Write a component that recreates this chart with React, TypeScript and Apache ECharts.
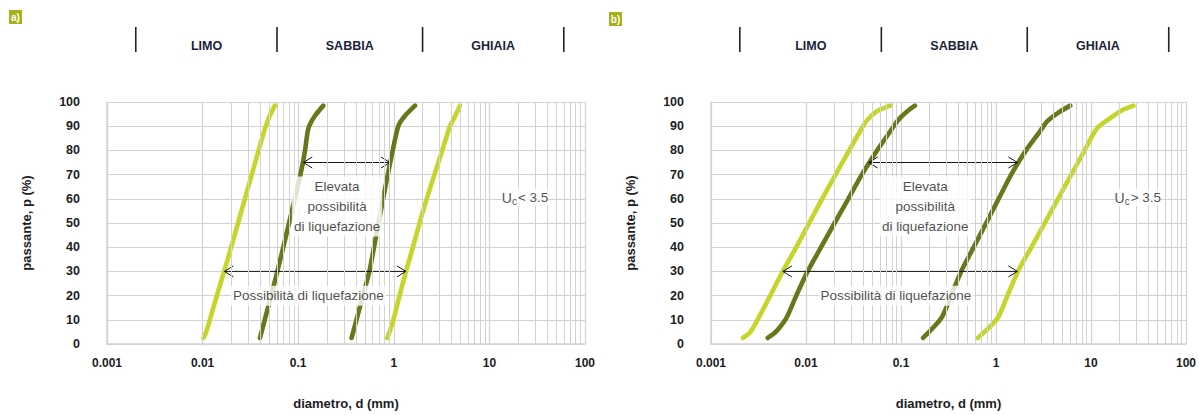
import React, { useEffect, useRef } from "react";
import * as echarts from "echarts";

// ---------- data ----------
const X_MIN = 0.001;
const X_MAX = 100;
const DECADES = [0.001, 0.01, 0.1, 1, 10];
const MINOR_MANTISSAS = [2, 3, 4, 5, 6, 7, 8, 9];

const HEADER_BOUNDS = [0.002, 0.06, 2, 60];
const HEADER_NAMES = ["LIMO", "SABBIA", "GHIAIA"];
const HEADER_POS = [0.011, 0.346, 10.95];

// panel a) Uc < 3.5
const A_LIGHT_LEFT = [
  [0.0102, 2.5], [0.0109, 5], [0.0119, 10], [0.0141, 20], [0.0168, 30], [0.0199, 40],
  [0.0235, 50], [0.0277, 60], [0.0327, 70], [0.0385, 80], [0.045, 89], [0.050, 94], [0.057, 98.5],
];
const A_DARK_LEFT = [
  [0.0398, 2.5], [0.0447, 10], [0.0521, 20], [0.0605, 30], [0.0698, 40],
  [0.0802, 50], [0.092, 60], [0.1057, 70], [0.118, 80], [0.1276, 89], [0.148, 94], [0.183, 98.5],
];
const A_DARK_RIGHT = [
  [0.362, 2.5], [0.407, 10], [0.476, 20], [0.555, 30], [0.621, 40],
  [0.693, 50], [0.774, 60], [0.865, 70], [0.975, 80], [1.114, 90], [1.29, 94], [1.667, 98.5],
];
const A_LIGHT_RIGHT = [
  [0.855, 2.5], [0.99, 10], [1.15, 20], [1.34, 30], [1.585, 40],
  [1.86, 50], [2.21, 60], [2.66, 70], [3.21, 80], [3.87, 90], [4.36, 94], [4.93, 98.5],
];
const A_ARROWS = [
  [0.113, 0.912, 75],
  [0.0169, 1.34, 30],
];
const A_TEXTS = [
  { pos: [0.255, 56.8], text: "Elevata\npossibilità\ndi liquefazione" },
  { pos: [0.1276, 19.9], text: "Possibilità di liquefazione" },
];
const A_UC = { pos: [13.5, 60.5], sign: "<", value: "3.5" };

// panel b) Uc > 3.5
const B_LIGHT_LEFT = [
  [0.00217, 2.5], [0.0026, 5], [0.0030, 9], [0.0042, 20], [0.0057, 30], [0.0079, 40],
  [0.0108, 50], [0.0148, 60], [0.0205, 70], [0.0285, 80], [0.036, 87], [0.043, 92], [0.055, 96], [0.077, 98.5],
];
const B_DARK_LEFT = [
  [0.00396, 2.5], [0.0048, 5], [0.0062, 10.7], [0.0079, 20], [0.0104, 30], [0.0144, 40],
  [0.020, 50], [0.0279, 60], [0.0387, 70], [0.056, 80], [0.0776, 88], [0.094, 92.7], [0.115, 96], [0.14, 98.5],
];
const B_DARK_RIGHT = [
  [0.171, 2.5], [0.266, 10.7], [0.336, 20], [0.43, 30], [0.582, 40], [0.788, 50],
  [1.067, 60], [1.445, 70], [2.07, 80], [2.92, 88], [3.46, 92], [4.7, 96], [6.05, 98.5],
];
const B_LIGHT_RIGHT = [
  [0.643, 2.5], [1.04, 10.7], [1.32, 20], [1.7, 30], [2.36, 40], [3.26, 50],
  [4.5, 60], [6.2, 70], [8.57, 80], [11.5, 89], [15.5, 93], [21, 96.5], [28, 98.5],
];
const B_ARROWS = [
  [0.0457, 1.68, 75],
  [0.0057, 1.68, 30],
];
const B_TEXTS = [
  { pos: [0.18, 56.8], text: "Elevata\npossibilità\ndi liquefazione" },
  { pos: [0.0885, 19.9], text: "Possibilità di liquefazione" },
];
const B_UC = { pos: [17.7, 60.5], sign: ">", value: "3.5" };

// ---------- styles ----------
const LIGHT = "#c4d62a";
const DARK = "#677719";
const GRID_C = "#d2d2d2";
const TEXT_C = "#1c1c24";
const SANS = "'Liberation Sans', Arial, sans-serif";
const NARROW = "'Liberation Sans Narrow', 'Liberation Sans', Arial, sans-serif";

const MINOR_VALUES: number[] = [];
DECADES.forEach((d) => MINOR_MANTISSAS.forEach((m) => MINOR_VALUES.push(d * m)));

function fmtTick(v: number) {
  return String(Number(v.toPrecision(3)));
}

function buildPanel(idx: number, curves: number[][][], arrows: number[][], texts: any[], uc: any) {
  const main = idx * 2;
  const head = idx * 2 + 1;
  const series: any[] = [];
  series.push({
    type: "line",
    xAxisIndex: main,
    yAxisIndex: main,
    data: [],
    silent: true,
    z: 1,
    markLine: {
      silent: true,
      symbol: ["none", "none"],
      label: { show: false },
      lineStyle: { color: GRID_C, type: "solid", width: 1 },
      data: MINOR_VALUES.map((v) => ({ xAxis: v })),
      animation: false,
    },
  });
  const colors = [LIGHT, DARK, DARK, LIGHT];
  curves.forEach((c, i) => {
    series.push({
      type: "line",
      xAxisIndex: main,
      yAxisIndex: main,
      data: c,
      smooth: 0.25,
      showSymbol: false,
      silent: true,
      z: 3,
      lineStyle: { color: colors[i], width: 4.6, cap: "round", join: "round" },
      itemStyle: { color: colors[i] },
    });
  });
  series.push({
    type: "custom",
    xAxisIndex: main,
    yAxisIndex: main,
    data: arrows,
    encode: { x: [0, 1], y: 2 },
    silent: true,
    z: 4,
    renderItem: (params: any, api: any) => {
      const y = api.value(2);
      const p1 = api.coord([api.value(0), y]);
      const p2 = api.coord([api.value(1), y]);
      const L = 9;
      const W = 5.5;
      const st = { stroke: "#151515", lineWidth: 1, fill: "none" };
      return {
        type: "group",
        children: [
          { type: "line", shape: { x1: p1[0], y1: p1[1], x2: p2[0], y2: p2[1] }, style: st },
          { type: "polyline", shape: { points: [[p1[0] + L, p1[1] - W], [p1[0], p1[1]], [p1[0] + L, p1[1] + W]] }, style: st },
          { type: "polyline", shape: { points: [[p2[0] - L, p2[1] - W], [p2[0], p2[1]], [p2[0] - L, p2[1] + W]] }, style: st },
        ],
      };
    },
  });
  series.push({
    type: "scatter",
    xAxisIndex: main,
    yAxisIndex: main,
    symbolSize: 0,
    silent: true,
    z: 6,
    data: texts.map((t) => ({ value: t.pos, name: t.text })),
    label: {
      show: true,
      position: "inside",
      formatter: "{b}",
      color: TEXT_C,
      fontFamily: NARROW,
      fontSize: 13.5,
      lineHeight: 20,
      align: "center",
      backgroundColor: "#ffffff",
      padding: [0, 2],
    },
  });
  series.push({
    type: "scatter",
    xAxisIndex: main,
    yAxisIndex: main,
    symbolSize: 0,
    silent: true,
    z: 6,
    data: [{ value: uc.pos, name: uc.sign + " " + uc.value }],
    label: {
      show: true,
      position: "right",
      distance: 0,
      formatter: (p: any) => "{u|U}{c|c}{t|" + p.name + "}",
      backgroundColor: "#ffffff",
      rich: {
        u: { fontFamily: NARROW, fontSize: 14, color: TEXT_C },
        c: { fontFamily: NARROW, fontSize: 10, color: TEXT_C, padding: [7, 1, 0, 0] },
        t: { fontFamily: NARROW, fontSize: 13.5, color: TEXT_C },
      },
    },
  });
  series.push({
    type: "custom",
    xAxisIndex: head,
    yAxisIndex: head,
    data: HEADER_BOUNDS.map((v) => [v, 0]),
    silent: true,
    renderItem: (params: any, api: any) => {
      const v = api.value(0);
      const p1 = api.coord([v, 0]);
      const p2 = api.coord([v, 1]);
      return {
        type: "line",
        shape: { x1: p1[0], y1: p1[1], x2: p2[0], y2: p2[1] },
        style: { stroke: "#222", lineWidth: 1.6 },
      };
    },
  });
  series.push({
    type: "custom",
    xAxisIndex: head,
    yAxisIndex: head,
    data: HEADER_POS.map((v) => [v, 0.26]),
    silent: true,
    renderItem: (params: any, api: any) => {
      const p = api.coord([api.value(0), api.value(1)]);
      return {
        type: "text",
        x: p[0],
        y: p[1],
        style: {
          text: HEADER_NAMES[params.dataIndex],
          fill: "#1a1f3a",
          font: "bold 12.5px " + NARROW,
          align: "center",
          verticalAlign: "middle",
        },
      };
    },
  });
  return series;
}

export default function App() {
  const ref = useRef<HTMLDivElement>(null);
  useEffect(() => {
    document.body.style.margin = "0";
    if (!ref.current) return;
    const chart = echarts.init(ref.current, null, { renderer: "svg" });
    const panels = [
      { left: 107, width: 478 },
      { left: 711, width: 479 },
    ];
    const grids: any[] = [];
    const xAxes: any[] = [];
    const yAxes: any[] = [];
    panels.forEach((p, i) => {
      grids.push({ left: p.left, top: 102, width: p.width, height: 246 });
      grids.push({ left: p.left, top: 27, width: p.width, height: 25 });
      xAxes.push({
        type: "log",
        logBase: 10,
        gridIndex: i * 2,
        min: X_MIN,
        max: X_MAX,
        splitNumber: 5,
        name: "diametro, d (mm)",
        nameLocation: "middle",
        nameGap: 53,
        nameTextStyle: { fontFamily: SANS, fontWeight: "bold", fontSize: 13, color: TEXT_C },
        axisLine: { show: true, lineStyle: { color: GRID_C, width: 1.5 } },
        axisTick: { show: false },
        axisLabel: {
          formatter: (v: number) => fmtTick(v),
          fontFamily: SANS,
          fontWeight: "bold",
          fontSize: 12,
          color: TEXT_C,
          margin: 13,
        },
        splitLine: { show: true, lineStyle: { color: GRID_C, width: 1.2 } },
        minorTick: { show: false },
      });
      xAxes.push({
        type: "log",
        logBase: 10,
        gridIndex: i * 2 + 1,
        min: X_MIN,
        max: X_MAX,
        show: false,
      });
      yAxes.push({
        type: "value",
        gridIndex: i * 2,
        min: 0,
        max: 100,
        interval: 10,
        name: "passante, p (%)",
        nameLocation: "middle",
        nameGap: 74,
        nameRotate: 90,
        nameTextStyle: { fontFamily: SANS, fontWeight: "bold", fontSize: 13, color: TEXT_C },
        axisLine: { show: true, lineStyle: { color: GRID_C, width: 1.5 } },
        axisTick: { show: false },
        axisLabel: { fontFamily: SANS, fontWeight: "bold", fontSize: 12.5, color: TEXT_C, margin: 27 },
        splitLine: { show: true, lineStyle: { color: GRID_C, width: 1.2 } },
      });
      yAxes.push({ type: "value", gridIndex: i * 2 + 1, min: 0, max: 1, show: false });
    });
    const series = [
      ...buildPanel(0, [A_LIGHT_LEFT, A_DARK_LEFT, A_DARK_RIGHT, A_LIGHT_RIGHT], A_ARROWS, A_TEXTS, A_UC),
      ...buildPanel(1, [B_LIGHT_LEFT, B_DARK_LEFT, B_DARK_RIGHT, B_LIGHT_RIGHT], B_ARROWS, B_TEXTS, B_UC),
    ];
    const badge = (x: number, y: number, t: string) => ({
      type: "group",
      x,
      y,
      children: [
        { type: "rect", shape: { x: 0, y: 0, width: 13, height: 14 }, style: { fill: "#a3b317" } },
        {
          type: "text",
          x: 6.5,
          y: 7,
          style: { text: t, fill: "#ffffff", font: "bold 10px " + NARROW, align: "center", verticalAlign: "middle" },
        },
      ],
    });
    chart.setOption({
      animation: false,
      backgroundColor: "#ffffff",
      grid: grids,
      xAxis: xAxes,
      yAxis: yAxes,
      series,
      graphic: [badge(9, 10, "a)"), badge(609, 12, "b)")],
    });
    return () => chart.dispose();
  }, []);
  return <div ref={ref} style={{ width: 1199, height: 415 }} />;
}
